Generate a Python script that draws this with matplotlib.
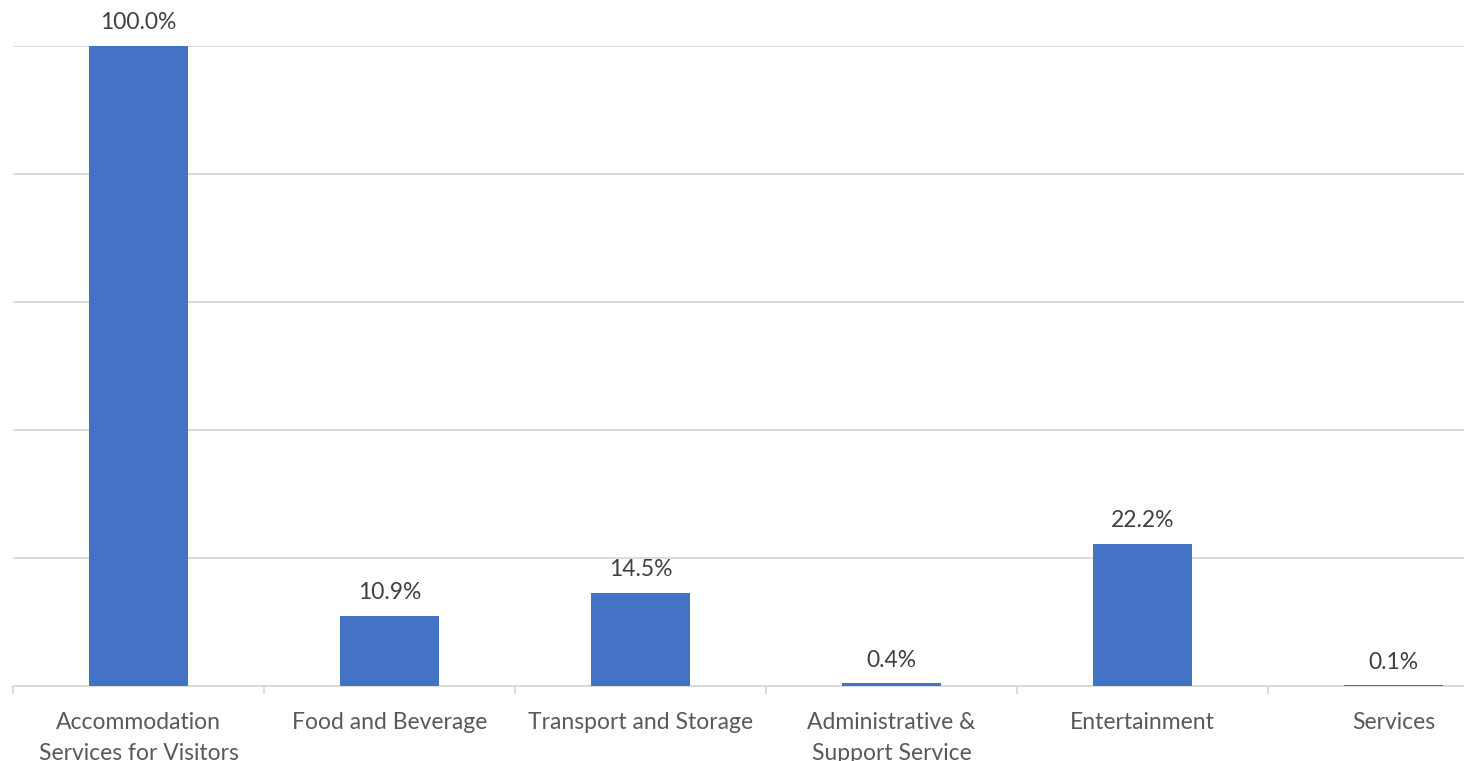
import matplotlib.pyplot as plt
import numpy as np

categories = ["Accommodation\nServices for Visitors", "Food and Beverage",
              "Transport and Storage", "Administrative &\nSupport Service",
              "Entertainment", "Services"]
values = [100.0, 10.9, 14.5, 0.4, 22.2, 0.1]

plt.rcParams['font.family'] = ['Lato', 'DejaVu Sans']

fig = plt.figure(figsize=(14.64, 7.61), dpi=100)
# plot area runs a little past the right edge of the picture (cropped)
ax = fig.add_axes([13 / 1464, 75 / 761, 1506 / 1464, 640 / 761])

x = np.arange(len(categories))
ax.bar(x, values, width=0.395, color='#4472C4', zorder=3)

for xi, v in zip(x, values):
    ax.text(xi, v + 2.0, f"{v:.1f}%", ha='center', va='bottom',
            fontsize=16.5, color='#404040', clip_on=False)

ax.set_xlim(-0.5, len(categories) - 0.5)
ax.set_ylim(0, 100)
ax.set_yticks(np.arange(0, 101, 20))
ax.yaxis.grid(True, color='#d9d9d9', linewidth=1.3, zorder=0)
ax.tick_params(axis='y', left=False, labelleft=False)

# category labels between boundary ticks
ax.set_xticks(x)
ax.set_xticklabels(categories, fontsize=16.5, color='#595959', linespacing=1.55)
ax.tick_params(axis='x', length=0, pad=19)
ax.set_xticks(np.arange(-0.5, len(categories), 1), minor=True)
ax.tick_params(axis='x', which='minor', length=6, color='#d9d9d9', width=1.3)

for s in ['top', 'right', 'left']:
    ax.spines[s].set_visible(False)
ax.spines['bottom'].set_color('#d9d9d9')
ax.spines['bottom'].set_linewidth(1.3)

plt.savefig('out.png', dpi=100)
